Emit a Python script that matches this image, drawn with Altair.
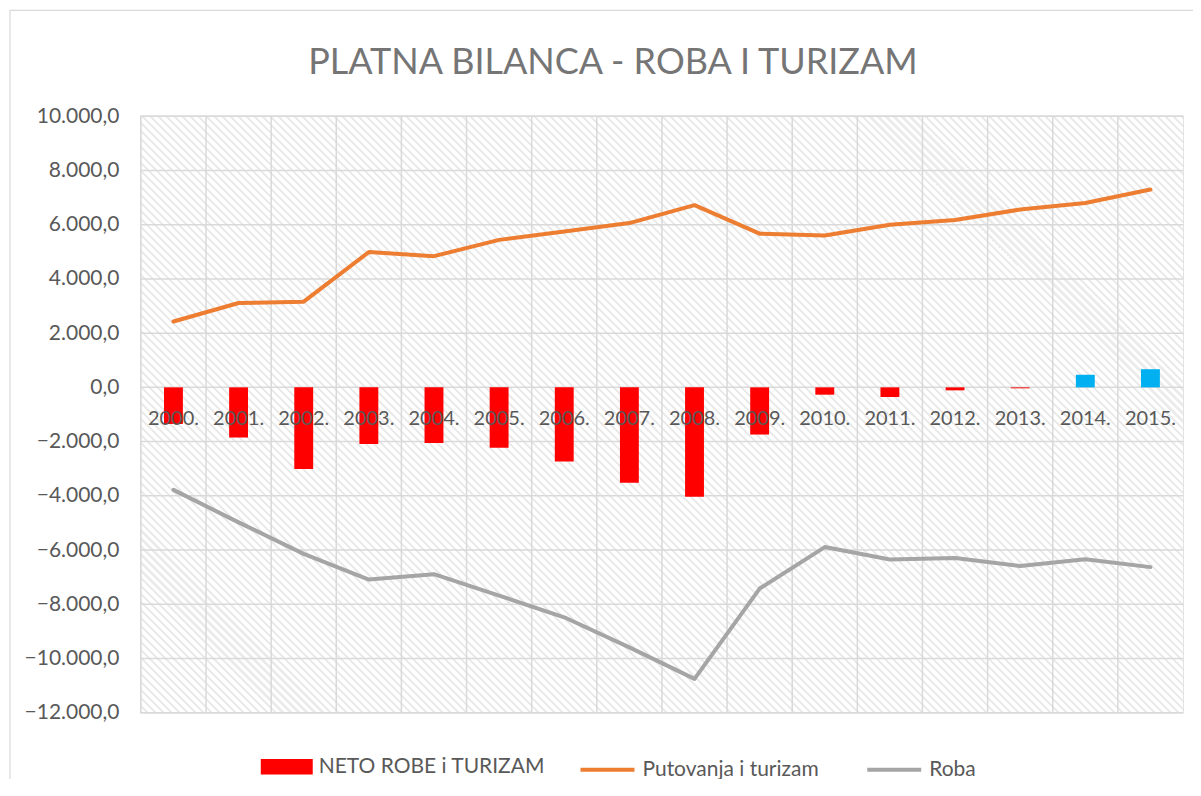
import altair as alt
import pandas as pd

# ---------------- data ----------------
years = ["2000.", "2001.", "2002.", "2003.", "2004.", "2005.", "2006.", "2007.",
         "2008.", "2009.", "2010.", "2011.", "2012.", "2013.", "2014.", "2015."]
neto = [-1350, -1850, -3010, -2090, -2050, -2230, -2730, -3520,
        -4030, -1740, -270, -355, -110, -35, 465, 670]
putovanja = [2430, 3110, 3160, 4990, 4840, 5440, 5750, 6060,
             6720, 5670, 5600, 6000, 6170, 6560, 6800, 7300]
roba = [-3780, -4980, -6140, -7090, -6890, -7680, -8480, -9590,
        -10750, -7420, -5890, -6350, -6290, -6590, -6340, -6630]
y_ticks = [-12000, -10000, -8000, -6000, -4000, -2000, 0,
           2000, 4000, 6000, 8000, 10000]

bar_name = "NETO ROBE i TURIZAM"
line_names = ["Putovanja i turizam", "Roba"]

# ---------------- style ----------------
W, H = 1043, 597
FONT = "Lato"
GRID = "#d9d9d9"
TEXT = "#595959"

bars_df = pd.DataFrame({"year": years, "value": neto, "series": bar_name})
lines_df = pd.concat([
    pd.DataFrame({"year": years, "value": putovanja, "series": line_names[0]}),
    pd.DataFrame({"year": years, "value": roba, "series": line_names[1]}),
])
years_df = pd.DataFrame({"year": years})
ticks_df = pd.DataFrame({"t": y_ticks})

# hatched background (diagonal stripes) as a linear gradient
r = H / W
k = (1 + r) / (1 + r * r)
n = round((W + H) / 8)
stops = []
for i in range(n):
    a = i / n
    b = (i + 0.62) / n
    c = (i + 1) / n
    stops += [
        {"offset": a, "color": "#ffffff"},
        {"offset": b, "color": "#ffffff"},
        {"offset": b, "color": "#ebebeb"},
        {"offset": c, "color": "#ebebeb"},
    ]
grad = {"gradient": "linear", "x1": 0, "y1": 1, "x2": k, "y2": 1 - k * r, "stops": stops}

x_scale = alt.Scale(type="band", paddingInner=0, paddingOuter=0)
y_scale = alt.Scale(domain=[-12000, 10000], nice=False, zero=False)
y_axis = alt.Axis(
    values=y_ticks, title=None, domain=False, ticks=False, grid=False,
    labelFont=FONT, labelFontSize=21, labelColor=TEXT, labelPadding=22,
    labelExpr="replace(replace(replace(format(datum.value, ',.1f'), ',', '_'), '.', ','), '_', '.')",
)


def X(**kw):
    return alt.X("year:N", sort=years, scale=x_scale, axis=None, **kw)


one = alt.Data(values=[{}])

border = alt.Chart(one).mark_rect(fill="transparent", stroke=GRID, strokeWidth=1.2).encode(
    x=alt.value(-131), x2=alt.value(W + 100), y=alt.value(-106), y2=alt.value(H + 200)
)

background = alt.Chart(one).mark_rect(fill=grad).encode(
    x=alt.value(0), x2=alt.value(W), y=alt.value(0), y2=alt.value(H)
)

vgrid = alt.Chart(years_df).mark_rule(color=GRID, strokeWidth=1.5).encode(
    x=X(bandPosition=0)
)

hgrid = alt.Chart(ticks_df).mark_rule(color=GRID, strokeWidth=1.5).encode(
    y=alt.Y("t:Q", scale=y_scale, axis=y_axis)
)

bars = alt.Chart(bars_df).mark_bar(width=alt.RelativeBandSize(0.29)).encode(
    x=X(),
    y=alt.Y("value:Q", scale=y_scale, axis=y_axis),
    fill=alt.condition(
        "datum.value > 0",
        alt.value("#00B0F0"),
        alt.Fill(
            "series:N",
            scale=alt.Scale(domain=[bar_name], range=["#FF0000"]),
            legend=alt.Legend(
                title=None, orient="none", legendX=120, legendY=625,
                symbolType="M-1,-0.3H1V0.3H-1Z", symbolSize=2704, symbolStrokeWidth=0,
                labelFont=FONT, labelFontSize=21, labelColor=TEXT, labelOffset=6,
                labelLimit=400,
            ),
        ),
    ),
)

lines = alt.Chart(lines_df).mark_line(strokeWidth=4, strokeCap="round", strokeJoin="round").encode(
    x=X(),
    y=alt.Y("value:Q", scale=y_scale, axis=y_axis),
    stroke=alt.Stroke(
        "series:N",
        scale=alt.Scale(domain=line_names, range=["#ED7D31", "#A5A5A5"]),
        legend=alt.Legend(
            title=None, orient="none", legendX=438, legendY=625, direction="horizontal",
            symbolType="M-1,0H1", symbolSize=2916, symbolStrokeWidth=4,
            columnPadding=40, labelOffset=6, labelLimit=400,
            labelFont=FONT, labelFontSize=21, labelColor=TEXT,
        ),
    ),
    detail="series:N",
)

labels = alt.Chart(years_df).mark_text(
    font=FONT, fontSize=20, color=TEXT, baseline="alphabetic", dy=38
).encode(
    x=X(),
    y=alt.YDatum(0, type="quantitative", scale=y_scale, axis=y_axis),
    text="year:N",
)

chart = alt.layer(border, background, vgrid, hgrid, bars, lines, labels).properties(
    width=W,
    height=H,
    autosize=alt.AutoSizeParams(type="none"),
    padding={"left": 133, "top": 108, "right": 10, "bottom": 66},
    background="white",
    title=alt.TitleParams(
        "PLATNA BILANCA - ROBA I TURIZAM", font=FONT, fontSize=36, fontWeight="normal",
        color="#757575", anchor="middle", dx=-49, offset=0, baseline="alphabetic", dy=100,
    ),
).configure_view(stroke=GRID, strokeWidth=1.5)

chart.save("out.html", embed_options={"renderer": "svg", "actions": False})
